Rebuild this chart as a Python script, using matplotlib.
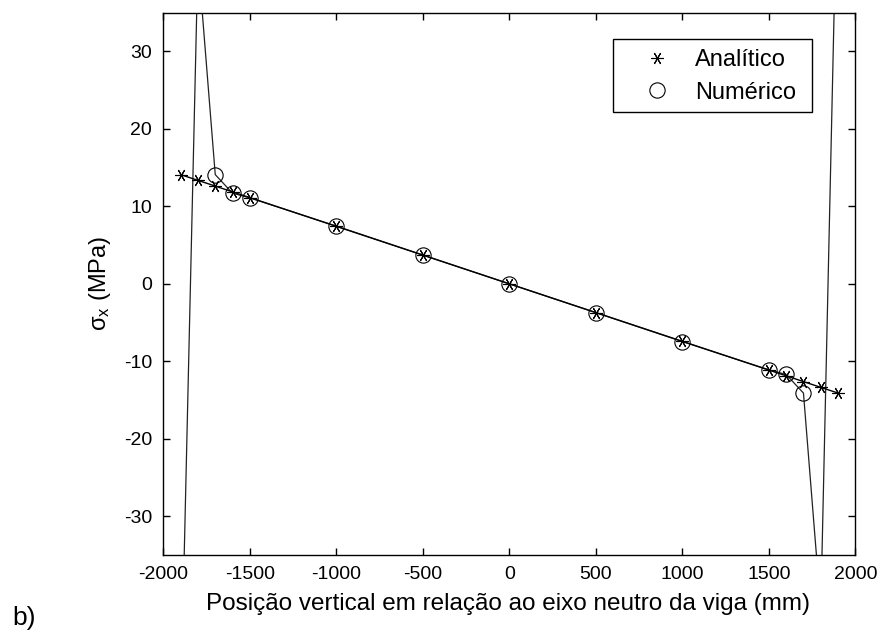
import matplotlib
matplotlib.use("Agg")
import matplotlib.pyplot as plt
from matplotlib.lines import Line2D
from matplotlib.patches import Rectangle

plt.rcParams['font.family'] = ['Liberation Sans', 'DejaVu Sans']
plt.rcParams['mathtext.fontset'] = 'custom'
plt.rcParams['mathtext.rm'] = 'Liberation Sans'
plt.rcParams['mathtext.it'] = 'Liberation Sans'
plt.rcParams['axes.unicode_minus'] = False

# Data
pos_analitico = [-1900, -1800, -1700, -1600, -1500, -1000, -500, 0, 500, 1000, 1500, 1600, 1700, 1800, 1900]
sig_analitico = [14.1, 13.36, 12.62, 11.87, 11.13, 7.42, 3.71, 0.0, -3.71, -7.42, -11.13, -11.87, -12.62, -13.36, -14.1]
pos_numerico = [-1900, -1800, -1700, -1600, -1500, -1000, -500, 0, 500, 1000, 1500, 1600, 1700, 1800, 1900]
sig_numerico = [-55.0, 42.0, 14.1, 11.7, 11.1, 7.45, 3.72, 0.0, -3.72, -7.45, -11.1, -11.7, -14.1, -42.0, 58.0]
xticks = [-2000, -1500, -1000, -500, 0, 500, 1000, 1500, 2000]
yticks = [-30, -20, -10, 0, 10, 20, 30]

fig = plt.figure(figsize=(8.82, 6.35), dpi=100)
ax = fig.add_axes([0.1852, 0.126, 0.7846, 0.854])

ast = (6, 2, 90)
ax.plot(pos_numerico, sig_numerico, '-', color='#222222', lw=0.9, marker='o', ms=11,
        mfc='none', mec='black', mew=0.8, zorder=2)
ax.plot(pos_analitico, sig_analitico, '-', color='black', lw=1.0, marker=ast, ms=9,
        mec='black', mew=0.8, zorder=3)

ax.set_xlim(-2000, 2000)
ax.set_ylim(-35, 35)
ax.set_xticks(xticks)
ax.set_yticks(yticks)
ax.tick_params(direction='in', top=True, right=True, length=5, width=1.0, labelsize=14, pad=8)
for s in ax.spines.values():
    s.set_linewidth(1.0)

ax.set_xlabel('Posição vertical em relação ao eixo neutro da viga (mm)', fontsize=17.5)
ax.xaxis.set_label_coords(0.4986, -0.070)
ax.xaxis.label.set_va('top')
ax.set_ylabel(r'σ$_\mathregular{x}$ (MPa)', fontsize=17)
ax.yaxis.set_label_coords(-0.0724, 0.5)

handles = [Line2D([], [], ls='none', marker=ast, ms=9, mec='black', mew=0.8),
           Line2D([], [], ls='none', marker='o', ms=11, mfc='none', mec='black', mew=0.8)]
leg = ax.legend(handles, ['Analítico', 'Numérico'], loc='upper left',
                bbox_to_anchor=(0.6964, 0.933), borderaxespad=0, borderpad=0,
                fontsize=17, frameon=False, handlelength=1.0, handletextpad=1.1,
                labelspacing=0.45)
ax.add_patch(Rectangle((0.6498, 0.8169), 0.9378 - 0.6498, 0.9515 - 0.8169,
                       transform=ax.transAxes, fill=True, facecolor='white',
                       edgecolor='black', lw=1.0, zorder=4))
leg.set_zorder(5)

fig.text(0.014, 0.016, 'b)', fontsize=19)

fig.savefig('out.png', dpi=100)
